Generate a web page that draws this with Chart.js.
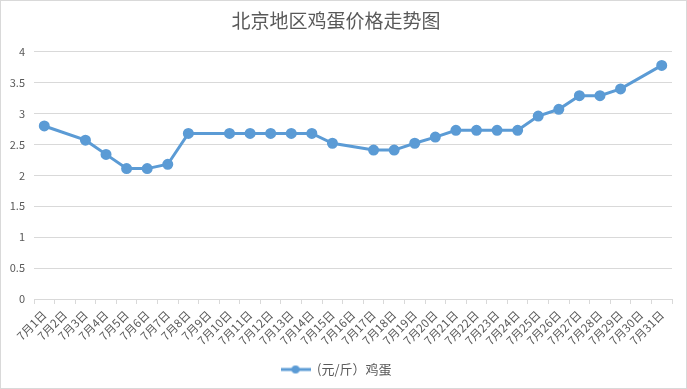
<!DOCTYPE html>
<html>
<head>
<meta charset="utf-8">
<script src="https://cdn.jsdelivr.net/npm/chart.js@4/dist/chart.umd.min.js"></script>
<style>
html,body{margin:0;padding:0;background:#fff;}
#wrap{width:687px;height:389px;position:relative;}
</style>
</head>
<body>
<div id="wrap"><canvas id="c" width="687" height="389"></canvas></div>
<script>
const categories = ["7月1日","7月2日","7月3日","7月4日","7月5日","7月6日","7月7日","7月8日","7月9日","7月10日","7月11日","7月12日","7月13日","7月14日","7月15日","7月16日","7月17日","7月18日","7月19日","7月20日","7月21日","7月22日","7月23日","7月24日","7月25日","7月26日","7月27日","7月28日","7月29日","7月30日","7月31日"];
const eggPrices = [2.8,null,2.57,2.34,2.11,2.11,2.18,2.68,null,2.68,2.68,2.68,2.68,2.68,2.52,null,2.41,2.41,2.52,2.62,2.73,2.73,2.73,2.73,2.96,3.07,3.29,3.29,3.40,null,3.78];
const seriesName = "(元/斤）鸡蛋";
const chartTitle = "北京地区鸡蛋价格走势图";
const yTicks = {min:0, max:4, step:0.5};

const FONT = "'Microsoft YaHei','Noto Sans CJK SC','DejaVu Sans',sans-serif";
const BLUE = "#5B9BD5";
const GREY = "#d9d9d9";
const TXT = "#595959";

// legend marker: line with a dot
const mk = document.createElement('canvas');
mk.width = 30; mk.height = 10;
(function(){
  const g = mk.getContext('2d');
  g.strokeStyle = BLUE; g.lineWidth = 3;
  g.beginPath(); g.moveTo(0,5); g.lineTo(30,5); g.stroke();
  g.fillStyle = BLUE; g.beginPath(); g.arc(15,5,4,0,Math.PI*2); g.fill();
})();

const borderPlugin = {
  id:'border',
  afterDraw(chart){
    const ctx = chart.ctx;
    ctx.save();
    ctx.strokeStyle = GREY; ctx.lineWidth = 1;
    ctx.strokeRect(0.5,0.5,686,388);
    ctx.restore();
  }
};

new Chart(document.getElementById('c'), {
  type:'line',
  data:{
    labels: categories,
    datasets:[{
      label: seriesName,
      data: eggPrices,
      borderColor: BLUE,
      backgroundColor: BLUE,
      borderWidth: 3,
      pointRadius: 4,
      pointHoverRadius: 4,
      pointBackgroundColor: BLUE,
      pointBorderColor: BLUE,
      pointStyle: 'circle',
      tension: 0,
      spanGaps: true
    }]
  },
  options:{
    responsive:false,
    animation:false,
    devicePixelRatio:1,
    layout:{padding:{left:0,right:15,top:0,bottom:3}},
    plugins:{
      title:{
        display:true,
        text: chartTitle,
        color: TXT,
        font:{family:FONT,size:19,weight:'normal'},
        padding:{top:9,bottom:20}
      },
      legend:{
        position:'bottom',
        labels:{
          color: TXT,
          font:{family:FONT,size:13},
          usePointStyle:true,
          pointStyle: mk,
          pointStyleWidth: 30,
          boxHeight: 10,
          padding: 10
        }
      },
      tooltip:{enabled:false}
    },
    scales:{
      x:{
        type:'category',
        offset:true,
        grid:{display:true, drawOnChartArea:false, drawTicks:true, tickLength:5, color:GREY, offset:true},
        border:{display:true, color:GREY, width:1},
        ticks:{color:TXT, font:{family:FONT,size:11.5}, minRotation:45, maxRotation:45, autoSkip:false, padding:4},
        afterFit(s){ s.height = 54; }
      },
      y:{
        min: yTicks.min, max: yTicks.max,
        grid:{color:GREY, drawTicks:false, lineWidth:1},
        border:{display:false},
        ticks:{stepSize: yTicks.step, color:TXT, font:{family:FONT,size:11}, padding:9,
          callback:(v)=>String(v)},
        afterFit(s){ s.width = 34; }
      }
    }
  },
  plugins:[borderPlugin]
});
</script>
</body>
</html>
